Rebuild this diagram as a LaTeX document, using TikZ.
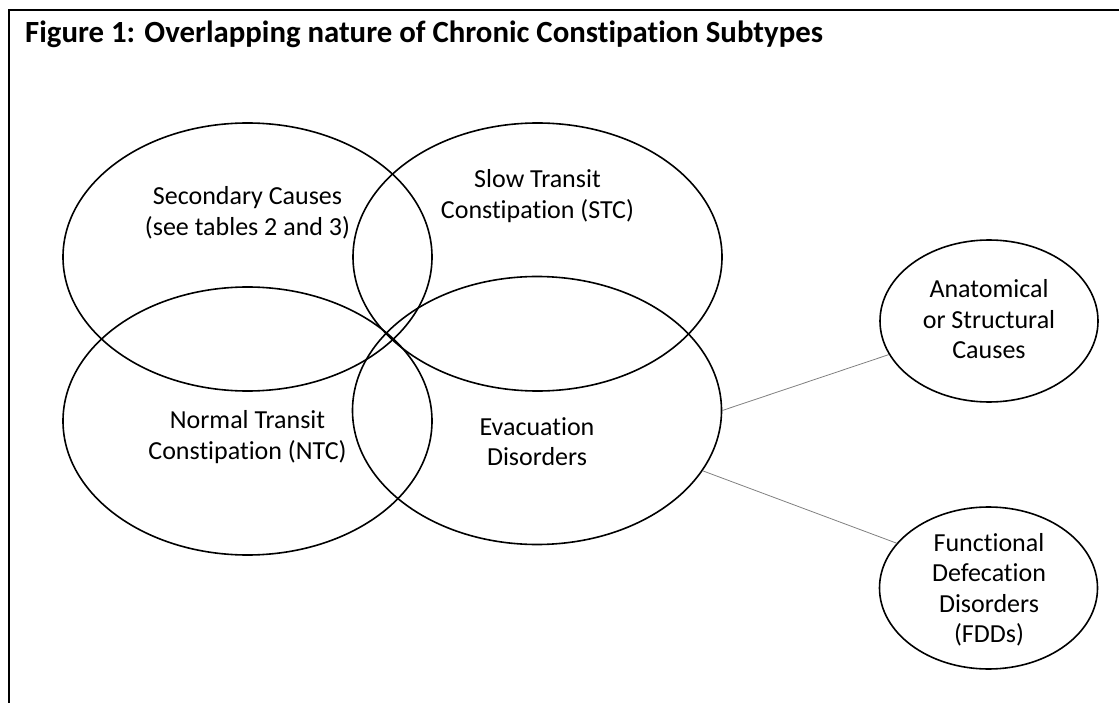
\documentclass[tikz,border=0pt]{standalone}
\usepackage{fontspec}
\setmainfont{Carlito}[RawFeature=-liga]
\usetikzlibrary{shapes.geometric}

\begin{document}
\begin{tikzpicture}[x=1pt, y=-1pt,
    blob/.style={draw, line width=1.6pt, ellipse, inner sep=0pt},
    big/.style={blob, minimum width=369pt, minimum height=268pt},
    small/.style={blob, minimum width=218pt, minimum height=162pt},
    txt/.style={align=center, font=\fontsize{26}{30.5}\selectfont},
    link/.style={draw=gray, line width=0.8pt}]
    \useasboundingbox (0,0) rectangle (1119,703);

    % frame and heading
    \draw[line width=2.4pt] (8.7,703) -- (8.7,10.3) -- (1119,10.3);
    \node[anchor=base west, inner sep=0pt, font=\bfseries\fontsize{30.8}{36}\selectfont] (title) at (25,43)
        {Figure 1: Overlapping nature of Chronic Constipation Subtypes};

    % subtype ellipses
    \node[big] (sec) at (247.5,257) {};
    \node[big] (stc) at (537.5,257) {};
    \node[big] (ntc) at (247.5,421) {};
    \node[big] (evac) at (537,410.5) {};
    \node[small] (anat) at (989,321) {};
    \node[small] (fdd) at (988.5,588) {};

    % labels
    \node[txt] (sectxt) at (247.5,213) {Secondary Causes\\(see tables 2 and 3)};
    \node[txt] (stctxt) at (537.5,196) {Slow Transit\\Constipation (STC)};
    \node[txt] (ntctxt) at (247.5,437) {Normal Transit\\Constipation (NTC)};
    \node[txt] (evactxt) at (537,441.5) {Evacuation\\Disorders};
    \node[txt] (anattxt) at (989,319.5) {Anatomical\\or Structural\\Causes};
    \node[txt] (fddtxt) at (989,590) {Functional\\Defecation\\Disorders\\(FDDs)};

    % links to the evacuation subtypes
    \draw[link] (evac.east) -- (anat);
    \draw[link] (evac.-20) -- (fdd.154);
\end{tikzpicture}
\end{document}
